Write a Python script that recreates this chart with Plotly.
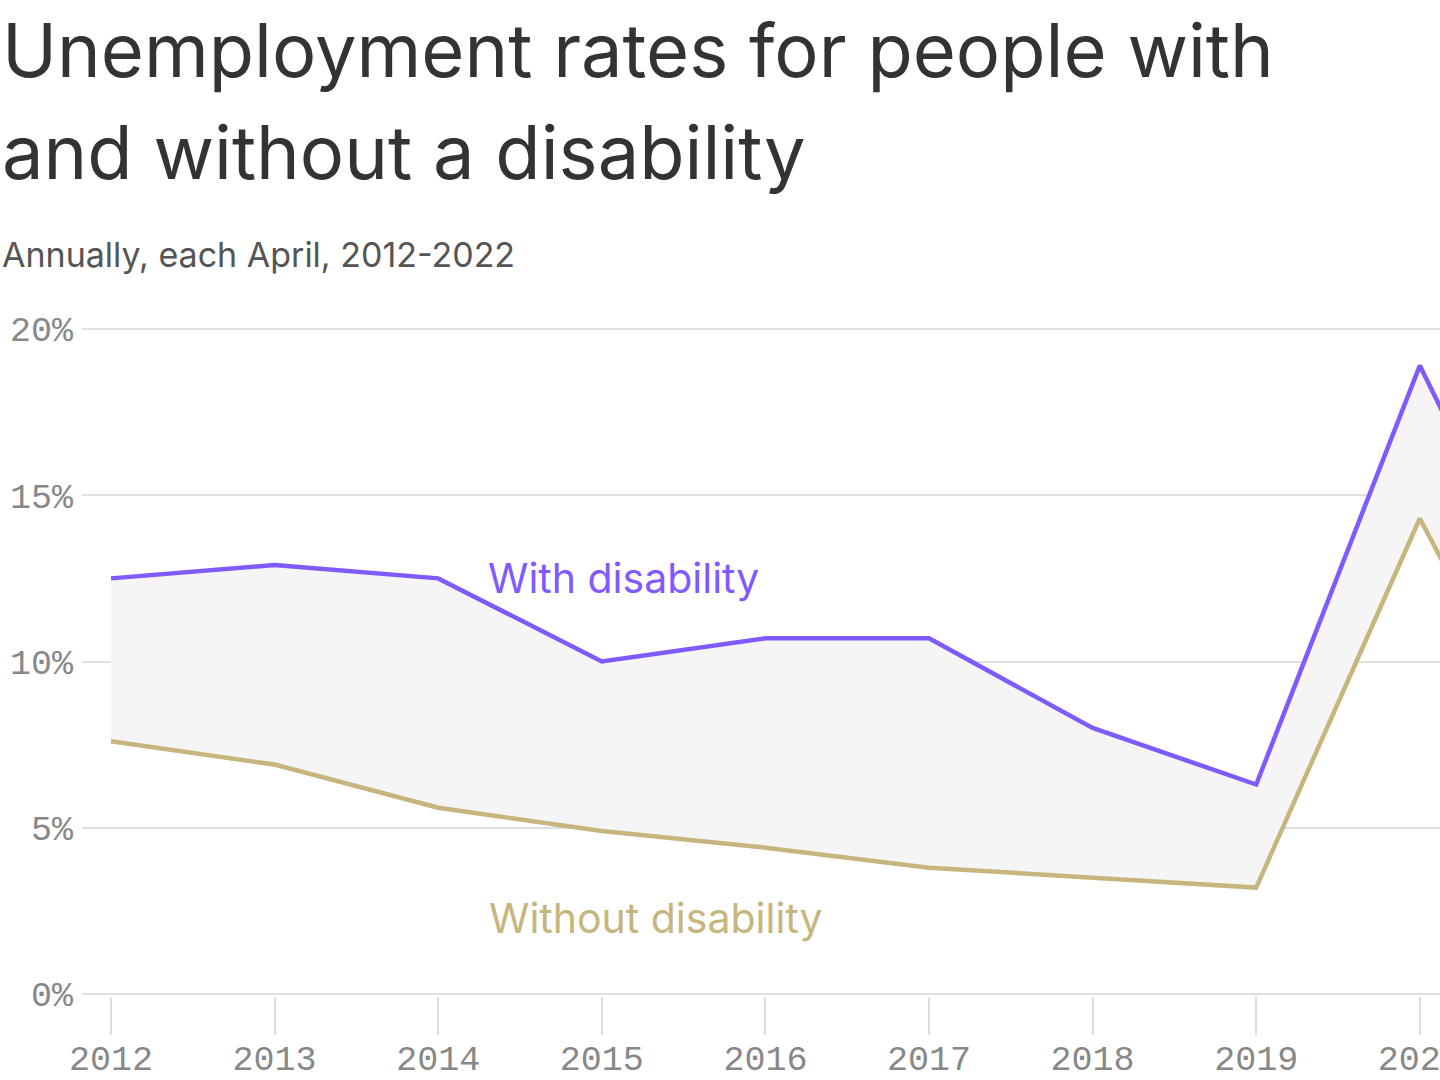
import plotly.graph_objects as go

years = [2012, 2013, 2014, 2015, 2016, 2017, 2018, 2019, 2020, 2021, 2022]
with_disability = [12.5, 12.9, 12.5, 10.0, 10.7, 10.7, 8.0, 6.3, 18.9, 8.9, 7.5]
without_disability = [7.6, 6.9, 5.6, 4.9, 4.4, 3.8, 3.5, 3.2, 14.3, 5.0, 3.5]
y_ticks = [0, 5, 10, 15, 20]
y_tick_labels = ["0%", "5%", "10%", "15%", "20%"]

PURPLE = "#7f5bff"
TAN = "#c6b57d"
W, H = 1440, 1080
ML, MR, MT, MB = 82, 0, 327, 84
plot_w = W - ML - MR
plot_h = H - MT - MB
px_per_year = 163.6
x0 = 2012 - (111 - ML) / px_per_year
x1 = x0 + plot_w / px_per_year

def py(px):
    return (H - MB - px) / plot_h

def pxr(px):
    return (px - ML) / plot_w

fig = go.Figure()
fig.add_trace(go.Scatter(x=years, y=without_disability, mode="lines",
                         line=dict(color=TAN, width=4.5), hoverinfo="skip",
                         showlegend=False))
fig.add_trace(go.Scatter(x=years, y=with_disability, mode="lines",
                         line=dict(color=PURPLE, width=4.5), fill="tonexty",
                         fillcolor="#f5f5f5", hoverinfo="skip", showlegend=False))

title_font = "Inter"
fig.add_annotation(text="Unemployment rates for people with", xref="paper", yref="paper",
                   x=pxr(0), y=py(50), xanchor="left", yanchor="middle", showarrow=False,
                   font=dict(family=title_font, size=74, color="#333333"))
fig.add_annotation(text="and without a disability", xref="paper", yref="paper",
                   x=pxr(0), y=py(152), xanchor="left", yanchor="middle", showarrow=False,
                   font=dict(family=title_font, size=74, color="#333333"))
fig.add_annotation(text="Annually, each April, 2012-2022", xref="paper", yref="paper",
                   x=pxr(0), y=py(255), xanchor="left", yanchor="middle", showarrow=False,
                   font=dict(family=title_font, size=34, color="#555555"))

fig.add_annotation(text="With disability", x=2014.29, y=12.5, xanchor="left",
                   yanchor="middle", showarrow=False,
                   font=dict(family=title_font, size=41, color=PURPLE))
fig.add_annotation(text="Without disability", x=2014.30, y=2.3, xanchor="left",
                   yanchor="middle", showarrow=False,
                   font=dict(family=title_font, size=41, color=TAN))

mono = "Liberation Mono"
fig.update_layout(
    width=W, height=H,
    margin=dict(l=ML, r=MR, t=MT, b=MB, pad=0),
    paper_bgcolor="white", plot_bgcolor="white",
    xaxis=dict(range=[x0, x1], tickvals=years, ticktext=[str(y) for y in years],
               showgrid=False, zeroline=False, showline=False, automargin=False,
               ticks="outside", ticklen=38, tickwidth=2, tickcolor="#dddddd",
               tickfont=dict(family=mono, size=35, color="#888888"),
               ticklabelstandoff=-7, ticklabeloverflow="allow"),
    yaxis=dict(range=[-0.06, 20.06], tickvals=y_ticks, ticktext=y_tick_labels,
               showgrid=True, gridcolor="#e0e0e0", gridwidth=2, automargin=False,
               zeroline=False, showline=False, ticks="",
               tickfont=dict(family=mono, size=35, color="#888888"),
               ticklabelstandoff=8),
)

fig.write_html("out.html")
